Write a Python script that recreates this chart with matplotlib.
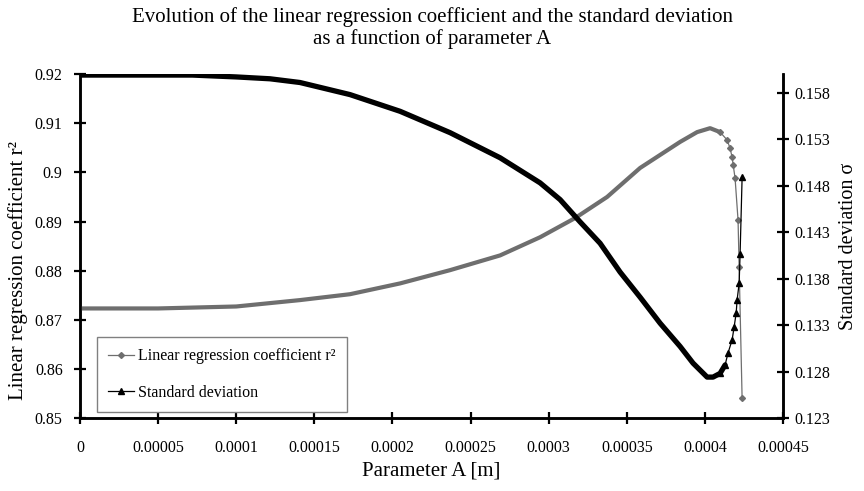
import matplotlib
matplotlib.use("Agg")
import matplotlib.pyplot as plt

plt.rcParams["font.family"] = ["Liberation Serif", "DejaVu Serif"]

# parameter A [m] and linear regression coefficient r2
a_r2 = [0, 5.0e-5, 1.0e-4, 1.408e-4, 1.728e-4, 2.049e-4, 2.369e-4, 2.689e-4,
        2.945e-4, 3.169e-4, 3.374e-4, 3.585e-4, 3.841e-4, 3.950e-4, 4.033e-4,
        4.097e-4, 4.142e-4, 4.161e-4, 4.174e-4, 4.181e-4, 4.193e-4, 4.212e-4,
        4.219e-4, 4.238e-4]
r2 = [0.8723, 0.8723, 0.8727, 0.8740, 0.8752, 0.8774, 0.8801, 0.8831,
      0.8868, 0.8907, 0.8950, 0.9009, 0.9062, 0.9082, 0.9090,
      0.9082, 0.9066, 0.9049, 0.9031, 0.9015, 0.8988, 0.8903,
      0.8807, 0.8540]

# parameter A [m] and standard deviation sigma
a_sd = [0, 7.2e-5, 1.0e-4, 1.216e-4, 1.408e-4, 1.728e-4, 2.049e-4, 2.369e-4,
        2.689e-4, 2.945e-4, 3.073e-4, 3.201e-4, 3.329e-4, 3.457e-4, 3.585e-4,
        3.713e-4, 3.841e-4, 3.924e-4, 4.014e-4, 4.052e-4, 4.097e-4, 4.129e-4,
        4.148e-4, 4.174e-4, 4.187e-4, 4.200e-4, 4.206e-4, 4.219e-4, 4.225e-4,
        4.238e-4]
sd = [0.1599, 0.1599, 0.1597, 0.1595, 0.1591, 0.1578, 0.1560, 0.1537,
      0.1510, 0.1483, 0.1465, 0.1441, 0.1418, 0.1387, 0.1360,
      0.1332, 0.1307, 0.1289, 0.1274, 0.1274, 0.1278, 0.1287,
      0.1300, 0.1314, 0.1328, 0.1343, 0.1357, 0.1375, 0.1406,
      0.1489]

x_ticks = [0, 5e-5, 1e-4, 1.5e-4, 2e-4, 2.5e-4, 3e-4, 3.5e-4, 4e-4, 4.5e-4]
x_labels = ["0", "0.00005", "0.0001", "0.00015", "0.0002", "0.00025",
            "0.0003", "0.00035", "0.0004", "0.00045"]
r2_ticks = [0.85, 0.86, 0.87, 0.88, 0.89, 0.90, 0.91, 0.92]
r2_labels = ["0.85", "0.86", "0.87", "0.88", "0.89", "0.9", "0.91", "0.92"]
sd_ticks = [0.123, 0.128, 0.133, 0.138, 0.143, 0.148, 0.153, 0.158]
sd_labels = ["0.123", "0.128", "0.133", "0.138", "0.143", "0.148", "0.153", "0.158"]

GRAY = "#6e6e6e"
r2_dense = 16   # r2 samples are packed into a solid band up to here
sd_dense = 22   # same for sigma

fig = plt.figure(figsize=(8.64, 4.91), dpi=100)
ax = fig.add_axes([0.0926, 0.1487, 0.8137, 0.7003])
ax2 = ax.twinx()

ax.plot(a_r2[:r2_dense], r2[:r2_dense], color=GRAY, lw=3.0,
        solid_capstyle="round", solid_joinstyle="round", zorder=3)
ax.plot(a_r2, r2, color=GRAY, lw=0.9, marker="D", ms=3,
        markevery=slice(r2_dense - 1, None), zorder=3)

ax2.plot(a_sd[:sd_dense], sd[:sd_dense], color="black", lw=3.8,
         solid_capstyle="round", solid_joinstyle="round", zorder=3)
ax2.plot(a_sd, sd, color="black", lw=0.9, marker="^", ms=5,
         markevery=slice(sd_dense - 2, None), zorder=3)

ax.set_xlim(0, 4.5e-4)
ax.set_ylim(0.85, 0.92)
ax2.set_ylim(0.123, 0.16)

ax.set_xticks(x_ticks)
ax.set_xticklabels(x_labels)
ax.set_yticks(r2_ticks)
ax.set_yticklabels(r2_labels)
ax2.set_yticks(sd_ticks)
ax2.set_yticklabels(sd_labels)

for a in (ax, ax2):
    a.spines["top"].set_visible(False)
    for s in ("left", "right", "bottom"):
        a.spines[s].set_linewidth(1.8)
    a.tick_params(direction="inout", length=9, width=1.6, labelsize=11.5)
ax.tick_params(axis="x", pad=11)
ax.tick_params(axis="y", pad=8)
ax2.tick_params(axis="y", pad=4)

ax.set_xlabel("Parameter A [m]", fontsize=15, labelpad=4)
ax.set_ylabel("Linear regression coefficient r²", fontsize=15)
ax.yaxis.set_label_coords(-0.074, 0.43)
ax2.set_ylabel("Standard deviation σ", fontsize=14.5, labelpad=6)

fig.suptitle("Evolution of the linear regression coefficient and the standard deviation\n"
             "as a function of parameter A", fontsize=15, y=0.985, linespacing=1.15)

h1 = plt.Line2D([], [], color=GRAY, lw=0.9, marker="D", ms=3)
h2 = plt.Line2D([], [], color="black", lw=0.9, marker="^", ms=5)
leg = ax.legend([h1, h2], ["Linear regression coefficient r²", "Standard deviation"],
                loc="lower left", bbox_to_anchor=(0.024, 0.017), borderaxespad=0,
                fontsize=11.5, fancybox=False, framealpha=1, edgecolor="#808080",
                handlelength=1.6, handletextpad=0.3, borderpad=0.7, labelspacing=1.3)
leg.get_frame().set_linewidth(1.0)

fig.savefig("out.png", dpi=100)
